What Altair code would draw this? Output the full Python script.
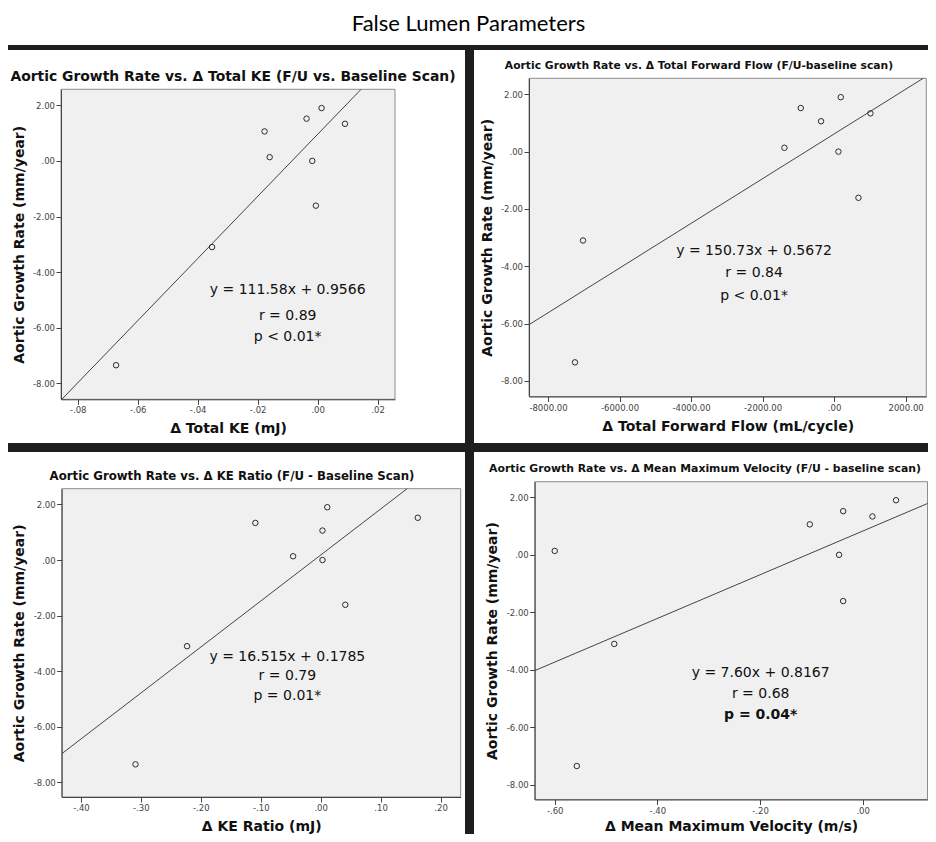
import altair as alt
import pandas as pd

# ---------------- data ----------------
growth_rate = [1.90, 1.52, 1.335, 1.06, 0.135, 0.00, -1.61, -3.10, -7.35]
delta_total_ke = [0.0013, -0.0037, 0.0091, -0.0177, -0.0160, -0.0018, -0.0006, -0.0352, -0.0672]
delta_forward_flow = [186, -932, 1016, -364, -1389, 121, 681, -7021, -7245]
delta_ke_ratio = [0.011, 0.162, -0.109, 0.003, -0.046, 0.003, 0.041, -0.223, -0.309]
delta_max_velocity = [0.065, -0.038, 0.019, -0.103, -0.600, -0.046, -0.038, -0.484, -0.557]

y_ticks = [2, 0, -2, -4, -6, -8]
x_ticks_ke = [-0.08, -0.06, -0.04, -0.02, 0.0, 0.02]
x_ticks_flow = [-8000, -6000, -4000, -2000, 0, 2000]
x_ticks_ratio = [-0.4, -0.3, -0.2, -0.1, 0.0, 0.1, 0.2]
x_ticks_velocity = [-0.6, -0.4, -0.2, 0.0]

main_title = "False Lumen Parameters"
y_title = "Aortic Growth Rate (mm/year)"
panel_titles = [
    "Aortic Growth Rate vs. Δ Total KE (F/U vs. Baseline Scan)",
    "Aortic Growth Rate vs. Δ Total Forward Flow (F/U-baseline scan)",
    "Aortic Growth Rate vs. Δ KE Ratio (F/U - Baseline Scan)",
    "Aortic Growth Rate vs. Δ Mean Maximum Velocity (F/U - baseline scan)",
]
x_titles = [
    "Δ Total KE (mJ)",
    "Δ Total Forward Flow (mL/cycle)",
    "Δ KE Ratio (mJ)",
    "Δ Mean Maximum Velocity (m/s)",
]
stat_texts = [
    ["y = 111.58x + 0.9566", "r = 0.89", "p < 0.01*"],
    ["y = 150.73x + 0.5672", "r = 0.84", "p < 0.01*"],
    ["y = 16.515x + 0.1785", "r = 0.79", "p = 0.01*"],
    ["y = 7.60x + 0.8167", "r = 0.68", "p = 0.04*"],
]

# ---------------- layout / style ----------------
layouts = [
    dict(w=457, h=393, plot=(53.0, 387.0, 39.3, 349.3), xdom=(-0.08556, 0.02578), ydom=(-8.576, 2.576),
         title_xy=(225, 27), title_size=13.9, stat_x=-0.0100, stat_y=(-4.66, -5.58, -6.34),
         xtp=7, ytp=6, bold_last=False),
    dict(w=454, h=393, plot=(55.0, 452.3, 28.3, 346.5), xdom=(-8531, 2578), ydom=(-8.541, 2.558),
         title_xy=(225, 15.5), title_size=10.75, stat_x=-2238, stat_y=(-3.47, -4.22, -5.03),
         xtp=8, ytp=6, bold_last=False),
    dict(w=457, h=382, plot=(53.7, 452.7, 36.7, 345.0), xdom=(-0.4321, 0.2336), ydom=(-8.525, 2.566),
         title_xy=(224, 23.5), title_size=11.75, stat_x=-0.0556, stat_y=(-3.48, -4.16, -4.88),
         xtp=7, ytp=7, bold_last=False),
    dict(w=454, h=382, plot=(60.7, 453.5, 29.7, 347.5), xdom=(-0.639, 0.1263), ydom=(-8.516, 2.545),
         title_xy=(231, 16.5), title_size=10.85, stat_x=-0.1987, stat_y=(-4.13, -4.86, -5.58),
         xtp=5, ytp=7, bold_last=True),
]

FONT = "DejaVu Sans"
LABEL_EXPR = ("replace(replace(format(datum.value, '.2f'), '\u2212', '-'), "
              "regexp('^(-?)0\\\\.'), '$1.')")


def make_panel(xvals, xticks, title, xtitle, stats, lay):
    df = pd.DataFrame({"x": xvals, "y": growth_rate})
    one = pd.DataFrame({"k": [0]})
    left, right, top, bottom = lay["plot"]
    W, H = lay["w"], lay["h"]
    xmin, xmax = lay["xdom"]
    ymin, ymax = lay["ydom"]
    xs = alt.Scale(domain=[xmin, xmax], range=[left, right], nice=False, zero=False)
    ys = alt.Scale(domain=[ymin, ymax], range=[bottom, top], nice=False, zero=False)
    common = dict(tickSize=5, tickColor="#444", tickWidth=1, domainColor="#444", domainWidth=1,
                  labelFont=FONT, labelFontSize=8.5, labelColor="#444", labelPadding=1.5,
                  labelExpr=LABEL_EXPR, labelOverlap=False, labelFlush=False, grid=False,
                  titleFont=FONT, titleFontSize=14, titleFontWeight="bold", titleColor="#111",
                  zindex=1)
    x_axis = alt.Axis(values=xticks, title=xtitle, orient="bottom", offset=bottom - H,
                      titlePadding=lay["xtp"], **common)
    y_axis = alt.Axis(values=y_ticks, title=y_title, orient="left", offset=-left,
                      titlePadding=lay["ytp"], **common)

    def XD(v):
        return alt.XDatum(v, type="quantitative", scale=xs, axis=x_axis)

    def YD(v):
        return alt.YDatum(v, type="quantitative", scale=ys, axis=y_axis)

    frame = alt.Chart(one).mark_rect(fill="#f0f0f0", stroke="#8c8c8c", strokeWidth=1).encode(
        x=XD(xmin), x2=alt.X2Datum(xmax), y=YD(ymin), y2=alt.Y2Datum(ymax))

    reg = (
        alt.Chart(df)
        .transform_regression("x", "y", params=True)
        .transform_calculate(
            xa=f"max({xmin}, ({ymin} - datum.coef[0]) / datum.coef[1])",
            xb=f"min({xmax}, ({ymax} - datum.coef[0]) / datum.coef[1])",
        )
        .transform_calculate(
            ya="datum.coef[0] + datum.coef[1] * datum.xa",
            yb="datum.coef[0] + datum.coef[1] * datum.xb",
        )
        .mark_rule(color="#444", strokeWidth=1)
        .encode(
            x=alt.X("xa:Q", scale=xs, axis=x_axis), x2="xb:Q",
            y=alt.Y("ya:Q", scale=ys, axis=y_axis), y2="yb:Q",
        )
    )

    pts = alt.Chart(df).mark_point(shape="circle", filled=False, size=30, color="#2b2b2b",
                                   strokeWidth=1, opacity=1).encode(
        x=alt.X("x:Q", scale=xs, axis=x_axis), y=alt.Y("y:Q", scale=ys, axis=y_axis))

    texts = []
    for i, (s, sy) in enumerate(zip(stats, lay["stat_y"])):
        bold = lay["bold_last"] and i == 2
        texts.append(
            alt.Chart(one).mark_text(text=s, font=FONT, fontSize=14,
                                     fontWeight="bold" if bold else "normal", color="#111",
                                     align="center", baseline="middle")
            .encode(x=XD(lay["stat_x"]), y=YD(sy))
        )

    tx, ty = lay["title_xy"]
    ttl = alt.Chart(one).mark_text(text=title, font=FONT, fontSize=lay["title_size"],
                                   fontWeight="bold", color="#111", align="center",
                                   baseline="middle").encode(x=alt.value(tx), y=alt.value(ty))

    return alt.layer(frame, reg, pts, *texts, ttl).properties(width=W, height=H)


xs_all = [delta_total_ke, delta_forward_flow, delta_ke_ratio, delta_max_velocity]
ticks_all = [x_ticks_ke, x_ticks_flow, x_ticks_ratio, x_ticks_velocity]
panels = [make_panel(xs_all[i], ticks_all[i], panel_titles[i], x_titles[i], stat_texts[i], layouts[i])
          for i in range(4)]

banner = alt.Chart(pd.DataFrame({"k": [0]})).mark_text(
    text=main_title, font="Lato", fontSize=22, color="#000", align="center", baseline="middle"
).encode(x=alt.value(460.5), y=alt.value(15.5)).properties(width=920, height=37)

row1 = alt.hconcat(panels[0], panels[1], spacing=9)
row2 = alt.hconcat(panels[2], panels[3], spacing=9)
grid = alt.vconcat(row1, row2, spacing=9)

chart = (
    alt.vconcat(banner, grid, spacing=5)
    .properties(padding=0, background="#1e1e1e")
    .configure_view(fill="white", strokeWidth=0)
)

chart.save("out.html", embed_options={"renderer": "svg", "actions": False})
